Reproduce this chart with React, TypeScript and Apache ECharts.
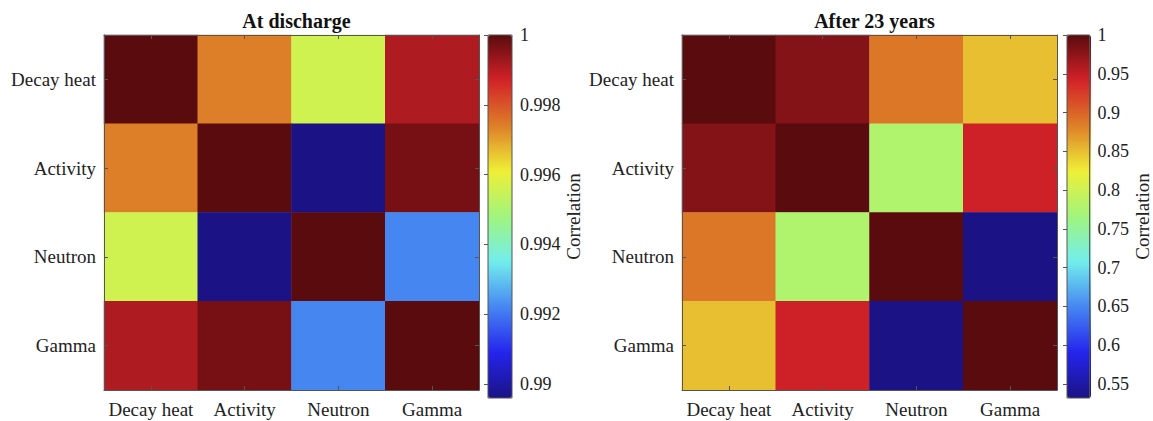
import React, { useEffect, useRef } from "react";
import * as echarts from "echarts";

// Quantities compared in both correlation matrices (row order = top to bottom)
const CATEGORIES = ["Decay heat", "Activity", "Neutron", "Gamma"];

// Correlation matrix at discharge
const DISCHARGE = [
  [1, 0.9974, 0.9956, 0.9991],
  [0.9974, 1, 0.9896, 0.9997],
  [0.9956, 0.9896, 1, 0.9922],
  [0.9991, 0.9997, 0.9922, 1],
];

// Correlation matrix after 23 years of cooling
const AFTER_23Y = [
  [1, 0.98, 0.888, 0.85],
  [0.98, 1, 0.778, 0.944],
  [0.888, 0.778, 1, 0.532],
  [0.85, 0.944, 0.532, 1],
];

// Colour-bar tick labels
const DISCHARGE_TICKS = [0.99, 0.992, 0.994, 0.996, 0.998, 1];
const AFTER_23Y_TICKS = [0.55, 0.6, 0.65, 0.7, 0.75, 0.8, 0.85, 0.9, 0.95, 1];

const TITLES = ["At discharge", "After 23 years"];
const COLORBAR_LABEL = "Correlation";

// Jet-like colour map, evenly spaced anchors from low to high
const JET = [
  "#1b1385",
  "#2424ec",
  "#4686f1",
  "#72eded",
  "#a0f57d",
  "#eef036",
  "#dd7f28",
  "#d32228",
  "#5a0b0e",
];

const FONT = "Liberation Serif";
const INK = "#222";
const FRAME = "#555";

function cells(m: number[][]) {
  const out: number[][] = [];
  m.forEach((row, i) => row.forEach((v, j) => out.push([j, i, v])));
  return out;
}

function fmt(v: number) {
  return String(parseFloat(Number(v).toFixed(4)));
}

type Panel = {
  title: string;
  matrix: number[][];
  ticks: number[];
  left: number;
  barLeft: number;
  nameGap: number;
};

const PANELS: Panel[] = [
  { title: TITLES[0], matrix: DISCHARGE, ticks: DISCHARGE_TICKS, left: 104, barLeft: 488, nameGap: 51 },
  { title: TITLES[1], matrix: AFTER_23Y, ticks: AFTER_23Y_TICKS, left: 682, barLeft: 1067, nameGap: 42 },
];

const TOP = 35;
const MAP_W = 375;
const MAP_H = 355;
const BAR_W = 24;
const BAR_H = 363;

function buildOption() {
  const grid: any[] = [];
  const xAxis: any[] = [];
  const yAxis: any[] = [];
  const series: any[] = [];
  const visualMap: any[] = [];
  const title: any[] = [];

  PANELS.forEach((p) => {
    const cmin = Math.min(...p.matrix.flat());
    const cmax = Math.max(...p.matrix.flat());
    const gMap = grid.length;
    grid.push({ left: p.left, top: TOP, width: MAP_W, height: MAP_H });
    const gBar = grid.length;
    grid.push({
      left: p.barLeft,
      top: TOP,
      width: BAR_W,
      height: BAR_H,
      show: true,
      borderColor: FRAME,
      borderWidth: 1,
      backgroundColor: "transparent",
      z: 10,
    });

    const catTick = {
      show: true,
      inside: true,
      alignWithLabel: true,
      interval: 0,
      length: 4,
      lineStyle: { color: FRAME },
    };
    const line = { show: true, lineStyle: { color: FRAME, width: 1 } };

    const xMain = xAxis.length;
    xAxis.push({
      type: "category",
      gridIndex: gMap,
      data: CATEGORIES,
      position: "bottom",
      axisLine: line,
      axisTick: catTick,
      axisLabel: { interval: 0, fontFamily: FONT, fontSize: 19, color: INK, margin: 10 },
      z: 5,
    });
    xAxis.push({
      type: "category",
      gridIndex: gMap,
      data: CATEGORIES,
      position: "top",
      axisLine: line,
      axisTick: catTick,
      axisLabel: { show: false },
      z: 5,
    });
    const xBar = xAxis.length;
    xAxis.push({ type: "value", gridIndex: gBar, min: 0, max: 1, show: false });

    const yMain = yAxis.length;
    yAxis.push({
      type: "category",
      gridIndex: gMap,
      data: CATEGORIES,
      inverse: true,
      position: "left",
      axisLine: line,
      axisTick: catTick,
      axisLabel: { interval: 0, fontFamily: FONT, fontSize: 19, color: INK, margin: 8 },
      z: 5,
    });
    yAxis.push({
      type: "category",
      gridIndex: gMap,
      data: CATEGORIES,
      inverse: true,
      position: "right",
      axisLine: line,
      axisTick: catTick,
      axisLabel: { show: false },
      z: 5,
    });
    const yBar = yAxis.length;
    yAxis.push({
      type: "value",
      gridIndex: gBar,
      position: "right",
      min: cmin,
      max: cmax,
      axisLine: { show: false },
      splitLine: { show: false },
      axisTick: {
        show: true,
        inside: true,
        length: 4,
        customValues: p.ticks,
        lineStyle: { color: FRAME },
      },
      axisLabel: {
        customValues: p.ticks,
        formatter: (v: number) => fmt(v),
        fontFamily: FONT,
        fontSize: 18,
        color: INK,
        margin: 8,
      },
      name: COLORBAR_LABEL,
      nameLocation: "middle",
      nameRotate: 90,
      nameGap: p.nameGap,
      nameTextStyle: { fontFamily: FONT, fontSize: 19, color: INK },
      z: 12,
    });

    const sIdx = series.length;
    series.push({
      type: "heatmap",
      xAxisIndex: xMain,
      yAxisIndex: yMain,
      data: cells(p.matrix),
      emphasis: { disabled: true },
      z: 2,
    });
    // keeps the colour-bar grid's axes alive
    series.push({
      type: "scatter",
      xAxisIndex: xBar,
      yAxisIndex: yBar,
      data: [],
      silent: true,
    });

    visualMap.push({
      type: "continuous",
      seriesIndex: sIdx,
      dimension: 2,
      min: cmin,
      max: cmax,
      calculable: false,
      orient: "vertical",
      left: p.barLeft,
      top: TOP,
      itemWidth: BAR_W,
      itemHeight: BAR_H,
      padding: 0,
      text: null,
      hoverLink: false,
      inRange: { color: JET },
      z: 6,
    });

    title.push({
      text: p.title,
      left: p.left + MAP_W / 2,
      top: 6,
      textAlign: "center",
      textStyle: { fontFamily: FONT, fontSize: 20, fontWeight: "bold", color: "#111" },
    });
  });

  return {
    animation: false,
    backgroundColor: "#fff",
    textStyle: { fontFamily: FONT },
    title,
    grid,
    xAxis,
    yAxis,
    visualMap,
    series,
  };
}

export default function App() {
  const ref = useRef<HTMLDivElement>(null);
  useEffect(() => {
    if (!ref.current) return;
    const chart = echarts.init(ref.current, undefined, { renderer: "svg" });
    chart.setOption(buildOption() as any);
    return () => chart.dispose();
  }, []);
  return (
    <div
      ref={ref}
      style={{ position: "absolute", left: 0, top: 0, width: 1153, height: 421, background: "#fff" }}
    />
  );
}
